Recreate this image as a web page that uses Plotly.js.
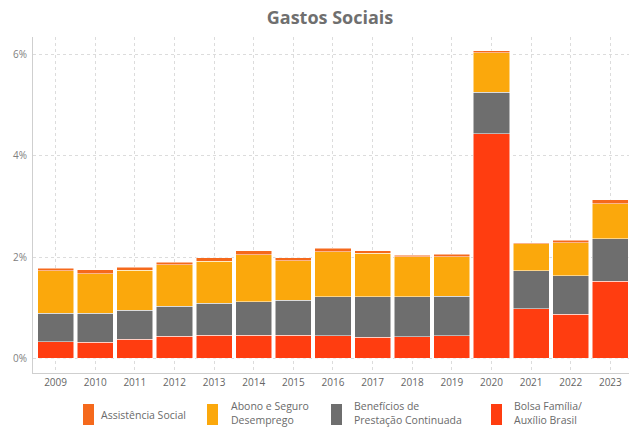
<!DOCTYPE html>
<html>
<head>
<meta charset="utf-8">
<script src="https://cdn.plot.ly/plotly-3.0.1.min.js"></script>
<style>html,body{margin:0;padding:0;background:#fff}#chart{width:629px;height:428px}</style>
</head>
<body>
<div id="chart"></div>
<script>
const years = ["2009","2010","2011","2012","2013","2014","2015","2016","2017","2018","2019","2020","2021","2022","2023"];
const bolsaFamilia = [0.33,0.32,0.38,0.44,0.46,0.46,0.46,0.45,0.42,0.43,0.45,4.44,0.98,0.87,1.52];
const bpc          = [0.56,0.57,0.57,0.59,0.63,0.66,0.69,0.77,0.80,0.79,0.78,0.82,0.75,0.76,0.84];
const abono        = [0.84,0.78,0.79,0.82,0.83,0.93,0.78,0.89,0.86,0.79,0.78,0.78,0.53,0.65,0.69];
const assistencia  = [0.05,0.08,0.06,0.05,0.07,0.08,0.06,0.07,0.05,0.03,0.05,0.04,0.02,0.05,0.08];
const seriesNames = ["Bolsa Família/<br>Auxílio Brasil","Benefícios de<br>Prestação Continuada","Abono e Seguro<br>Desemprego","Assistência Social"];
const seriesColors = ["#FF3D10","#6E6E6E","#FBA80C","#F5691C"];
const yTicks = [0,2,4,6];
const yTickText = ["0%","2%","4%","6%"];

const seriesValues = [bolsaFamilia, bpc, abono, assistencia];
const traces = seriesValues.map((v,i)=>({
  type:"bar", x:years, y:v, name:seriesNames[i],
  marker:{color:seriesColors[i], line:{color:"#ffffff", width:0.5}},
  hoverinfo:"skip"
}));

// plot area in pixels
const L=33, T=37, W=596, H=336;
const px2x = px => (px-L)/W;
const px2y = py => (T+H-py)/H;

// custom legend (order as in reference: Assistência, Abono, BPC, Bolsa)
const legendOrder = [3,2,1,0];
const legendSymbolLeft = [83,207,331,491];
const legendTextLeft = [99,229,352,512];
const shapes = [], annotations = [];
legendOrder.forEach((si,k)=>{
  shapes.push({type:"rect", xref:"paper", yref:"paper",
    x0:px2x(legendSymbolLeft[k]), x1:px2x(legendSymbolLeft[k]+11),
    y0:px2y(425), y1:px2y(404), fillcolor:seriesColors[si], line:{width:0}});
  const twoLine = seriesNames[si].includes("<br>");
  annotations.push({xref:"paper", yref:"paper", x:px2x(legendTextLeft[k]), xanchor:"left",
    y:px2y(twoLine?413.5:415), yanchor:"middle", text:seriesNames[si], showarrow:false, align:"left",
    font:{family:"'Open Sans', sans-serif", size:10.5, color:"#6a6a6a"}});
});

const layout = {
  width:629, height:428,
  margin:{l:L, r:0, t:T, b:428-T-H},
  paper_bgcolor:"#ffffff", plot_bgcolor:"#ffffff",
  barmode:"stack", bargap:0.09,
  font:{family:"'Open Sans', sans-serif", color:"#777777", size:10},
  title:{text:"<b>Gastos Sociais</b>", x:330/629, xanchor:"center", xref:"container",
         y:1-18/428, yanchor:"middle", yref:"container",
         font:{family:"'Open Sans', sans-serif", size:18, color:"#6f6f6f"}},
  xaxis:{type:"category", range:[-0.57,14.47], showgrid:true, gridcolor:"#dcdcdc", griddash:"dot",
         gridwidth:1, showline:true, linecolor:"#cfcfcf", linewidth:1, ticks:"", tickfont:{size:10,color:"#666"},
         zeroline:false, fixedrange:true, automargin:false},
  yaxis:{range:[-0.29,6.35], tickvals:yTicks, ticktext:yTickText, showgrid:true, gridcolor:"#dcdcdc",
         griddash:"dot", showline:true, linecolor:"#cfcfcf", linewidth:1, ticks:"", zeroline:false,
         tickfont:{size:10,color:"#808080"}, ticklabelstandoff:3, automargin:false},
  showlegend:false,
  shapes:shapes,
  annotations:annotations
};
Plotly.newPlot("chart", traces, layout, {staticPlot:true, displayModeBar:false});
</script>
</body>
</html>
